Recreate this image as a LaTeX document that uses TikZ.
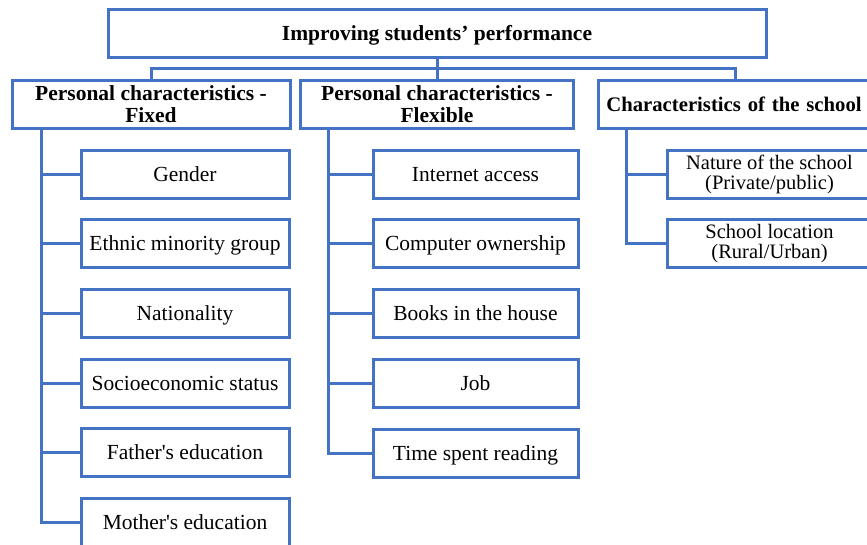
\documentclass[tikz,border=0pt]{standalone}
\usepackage{fontspec}
\setmainfont{Liberation Serif}
\definecolor{boxblue}{RGB}{68,114,196}
\begin{document}
\begin{tikzpicture}[x=1pt,y=-1pt,
  box/.style={draw=boxblue, line width=3pt, fill=white, rectangle,
    inner sep=0pt, minimum height=48pt, align=center,
    font=\fontsize{21.5}{21.5}\selectfont},
  oneline/.style={text height=19pt, text depth=5pt},
  twoline/.style={font=\fontsize{20.5}{20}\selectfont},
  headbox/.style={box, font=\fontsize{21.5}{21.5}\selectfont\bfseries},
  link/.style={draw=boxblue, line width=3pt}]
\useasboundingbox (0,0) rectangle (867,544);
\begin{scope}
\clip (0,0) rectangle (867,544);

% root and the three groups
\node[headbox, oneline, minimum width=658pt] (root) at (437,33) {Improving students’ performance};
\node[headbox, minimum width=278pt] (fixed) at (151,104) {Personal characteristics -\\Fixed};
\node[headbox, minimum width=273pt] (flex) at (437,104) {Personal characteristics -\\Flexible};
\node[headbox, oneline, minimum width=275pt, text width=275pt,
  font=\fontsize{20.7}{21}\selectfont\bfseries] (school) at (735.5,104) {\hspace*{-3pt}Characteristics of the school};

% fixed characteristics
\node[box, oneline, minimum width=208pt] (g1) at (185,174) {Gender};
\node[box, oneline, minimum width=208pt] (g2) at (185,243.5) {Ethnic minority group};
\node[box, oneline, minimum width=208pt] (g3) at (185,313) {Nationality};
\node[box, oneline, minimum width=208pt] (g4) at (185,383) {Socioeconomic status};
\node[box, oneline, minimum width=208pt] (g5) at (185,452.5) {Father\textquotesingle s education};
\node[box, oneline, minimum width=208pt] (g6) at (185,522) {Mother\textquotesingle s education};

% flexible characteristics
\node[box, oneline, minimum width=205pt] (h1) at (475.5,174) {Internet access};
\node[box, oneline, minimum width=205pt] (h2) at (475.5,243.5) {Computer ownership};
\node[box, oneline, minimum width=205pt] (h3) at (475.5,313.5) {Books in the house};
\node[box, oneline, minimum width=205pt] (h4) at (475.5,383) {Job};
\node[box, oneline, minimum width=205pt] (h5) at (475.5,453) {Time spent reading};

% school characteristics
\node[box, twoline, minimum width=205pt] (s1) at (769.5,174) {Nature of the school\\(Private/public)};
\node[box, twoline, minimum width=205pt] (s2) at (769.5,243.5) {School location\\(Rural/Urban)};

% trunk start points below each group
\coordinate (bus) at (437,68.5);
\coordinate (ta) at (41,128);
\coordinate (tb) at (328.5,128);
\coordinate (tc) at (626,128);

% top level connectors
\draw[link] (root.south) -- (flex.north);
\draw[link] (fixed.north) |- (bus) -| (school.north);

% branch trunks
\draw[link] (ta) |- (g6.west);
\foreach \n in {g1,g2,g3,g4,g5} \draw[link] (\n.west) -- (\n.west -| ta);
\draw[link] (tb) |- (h5.west);
\foreach \n in {h1,h2,h3,h4} \draw[link] (\n.west) -- (\n.west -| tb);
\draw[link] (tc) |- (s2.west);
\draw[link] (s1.west) -- (s1.west -| tc);
\end{scope}
\end{tikzpicture}
\end{document}
